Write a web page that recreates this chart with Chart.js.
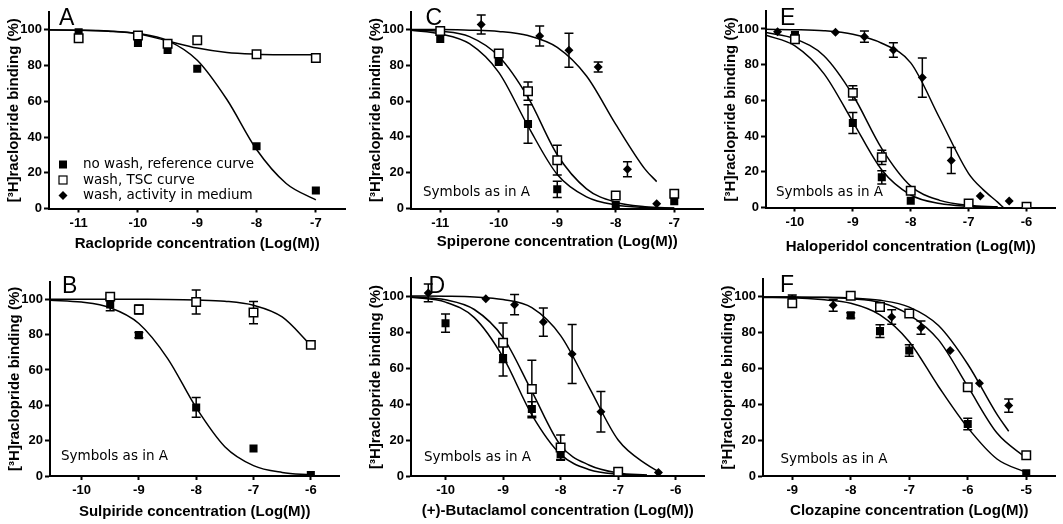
<!DOCTYPE html>
<html>
<head>
<meta charset="utf-8">
<script src="https://cdn.jsdelivr.net/npm/chart.js@4.4.1/dist/chart.umd.min.js"></script>
<style>
html, body { margin: 0; padding: 0; background: #fff; overflow: hidden; }
#fig { position: relative; width: 1063px; height: 524px; }
#fig canvas { position: absolute; }
</style>
</head>
<body>
<div id="fig"></div>
<script>
// ---- data ----
const yTickValues = [0, 20, 40, 60, 80, 100];
const legendLabels = ['no wash, reference curve', 'wash, TSC curve', 'wash, activity in medium'];
const yTitle = '[³H]raclopride binding (%)';

// A - raclopride
const aConc = [-11, -10, -9.5, -9, -8, -7];
const aRef = [98.7, 92.6, 88.8, 78.2, 34.8, 10.1];
const aTsc = [95.3, 96.8, 92.2, 94.2, 86.4, 84.2];
const aFitX = [-11.5, -11, -10.5, -10, -9.5, -9, -8.5, -8, -7.5, -7];
const aRefFit = [99.9, 99.8, 99.4, 98, 94, 83, 61, 33, 14, 4.8];
const aTscFit = [100, 99.8, 99.2, 97.8, 93.8, 89.8, 87.3, 86.4, 86.1, 86];

// B - sulpiride
const bConc = [-9.5, -9, -8, -7, -6];
const bRef = [97, 79.7, 38.8, 15.6, 0.6];
const bRefErr = [3.5, 1.5, 5.6, 0, 0];
const bTsc = [101.5, 94.2, 98.5, 92.5, 74.2];
const bTscErr = [1, 2.5, 6.8, 6.3, 0];
const bFitX = [-10.55, -10, -9.5, -9, -8.5, -8, -7.5, -7, -6.5, -6];
const bRefFit = [99.5, 98.4, 95.2, 86.3, 66.6, 38.7, 16.6, 5.9, 2, 0.6];
const bTscFit = [100, 100, 100, 99.96, 99.9, 99.6, 98.9, 96.6, 90, 74];

// C - spiperone
const cConc = [-11, -10, -9.5, -9, -8, -7];
const cRef = [94.6, 81.8, 47.2, 10.7, 1.9, 4.1];
const cRefErr = [0, 0, 10.8, 4.5, 0, 0];
const cTsc = [99.1, 86.5, 65.5, 27, 7.3, 8.2];
const cTscErr = [0, 0, 5.1, 8.3, 0, 0];
const cMedConc = [-10.3, -9.3, -8.8, -8.3, -7.8, -7.3];
const cMed = [102.8, 96.3, 88.4, 79, 21.9, 2.6];
const cMedErr = [5.3, 5.6, 9.5, 2.8, 4.2, 0];
const cFitX = [-11.5, -11, -10.5, -10, -9.5, -9, -8.5, -8, -7.5, -7];
const cRefFit = [99.5, 97.5, 92, 76, 46, 19, 6.5, 2, 0.6, 0.2];
const cTscFit = [99.7, 99, 96, 85, 62, 30, 11, 3.5, 1, 0.3];
const cMedFitX = [-11.5, -11, -10.5, -10, -9.5, -9, -8.5, -8, -7.5, -7.3];
const cMedFit = [100, 99.9, 99.6, 98.9, 96.6, 90, 74, 47, 22, 15];

// D - (+)-butaclamol
const dConc = [-10, -9, -8.5, -8, -7];
const dRef = [84.9, 65.6, 37.2, 12.1, 1.9];
const dRefErr = [5.1, 10, 4, 3, 0];
const dTscConc = [-9, -8.5, -8, -7];
const dTsc = [74, 48.3, 15.8, 2.4];
const dTscErr = [11, 16, 7, 1.5];
const dMedConc = [-10.3, -9.3, -8.8, -8.3, -7.8, -7.3, -6.3];
const dMed = [101.7, 98.5, 95.2, 85.5, 67.8, 35.7, 1.9];
const dMedErr = [4.9, 0, 5.6, 7.8, 16.4, 11.2, 0];
const dFitX = [-10.6, -10, -9.5, -9, -8.5, -8, -7.5, -7, -6.5];
const dRefFit = [99.3, 96.6, 88, 66, 34, 12, 3.5, 1, 0.3];
const dTscFit = [99.6, 97.9, 92.5, 77, 47, 17, 6, 1.7, 0.5];
const dMedFitX = [-10.6, -10, -9.5, -9, -8.5, -8, -7.5, -7, -6.5, -6.3];
const dMedFit = [100, 99.9, 99.5, 98, 93.5, 78, 49, 20, 6.3, 2.5];

// E - haloperidol
const eConc = [-10, -9, -8.5, -8, -7, -6];
const eRef = [96.6, 47.3, 16.9, 3.8, 0.4, 0.3];
const eRefErr = [0, 5.9, 3.7, 0, 0, 0];
const eTsc = [94.2, 64.2, 28.1, 9.4, 2.3, 0.4];
const eTscErr = [0, 4, 4, 0, 0, 0];
const eMedConc = [-10.3, -9.3, -8.8, -8.3, -7.8, -7.3, -6.8, -6.3];
const eMed = [98.5, 98.1, 95.7, 88.2, 72.8, 26.3, 6.4, 3.6];
const eMedErr = [0, 0, 3.1, 4.1, 11, 7.3, 0, 0];
const eFitX = [-10.5, -10, -9.5, -9, -8.5, -8, -7.5, -7, -6.5];
const eRefFit = [96.5, 90.5, 75, 48, 21, 7, 2.2, 0.7, 0.2];
const eTscFit = [98, 94.5, 85, 63, 33, 12, 4, 1.2, 0.4];
const eMedFitX = [-10.5, -10, -9.5, -9, -8.5, -8, -7.5, -7, -6.75, -6.5, -6.4];
const eMedFit = [99.8, 99.6, 99, 97, 92, 81, 50, 19, 10, 3, 0];

// F - clozapine
const fConc = [-9, -8, -7.5, -7, -6, -5];
const fRef = [98.5, 89.7, 80.9, 70.1, 29, 1.5];
const fRefErr = [2.5, 1.5, 3.5, 3.2, 3.2, 0];
const fTsc = [96.5, 100.6, 94.4, 90.7, 49.5, 11.6];
const fTscErr = [0, 0, 0, 0, 0, 0];
const fMedConc = [-9, -8.3, -7.3, -6.8, -6.3, -5.8, -5.3];
const fMed = [98.7, 95.3, 88.8, 82.8, 70.1, 51.8, 39.3];
const fMedErr = [0, 3.3, 4, 3.7, 0, 0, 3.7];
const fFitX = [-9.5, -9, -8.5, -8, -7.5, -7, -6.5, -6, -5.5, -5];
const fRefFit = [99.7, 99.5, 98.5, 96.5, 90, 75, 50, 27, 9.5, 2];
const fTscFit = [100, 99.9, 99.7, 99, 97, 90, 76, 50, 24, 10];
const fMedFitX = [-9.5, -9, -8.5, -8, -7.5, -7, -6.5, -6, -5.5, -5.3];
const fMedFit = [100, 99.9, 99.8, 99.4, 98.1, 94.3, 84, 62.4, 34.4, 25];

// ---- styling ----
const tickFont = { family: '"Liberation Sans Narrow", "Liberation Sans", Arial, sans-serif', size: 13, weight: 'bold' };
const titleFont = { family: '"Liberation Sans", Arial, sans-serif', size: 15, weight: 'bold' };
const noteFont = '13.5px "DejaVu Sans", Verdana, sans-serif';
const letterFont = '23px "Liberation Sans", Arial, sans-serif';

const markers = {
    filled: { pointStyle: 'rect', pointRadius: 5.7, backgroundColor: '#000', borderColor: '#000', borderWidth: 0 },
    open: { pointStyle: 'rect', pointRadius: 6, backgroundColor: '#fff', borderColor: '#000', borderWidth: 1.5 },
    diamond: { pointStyle: 'rectRot', pointRadius: 4.5, backgroundColor: '#000', borderColor: '#000', borderWidth: 0 }
};

function pts(xs, ys) {
    return xs.map((x, i) => ({ x: x, y: ys[i] }));
}

function markerSet(xs, ys, errs, style) {
    return Object.assign({ data: pts(xs, ys), errors: errs || null, showLine: false, pointHoverRadius: markers[style].pointRadius }, markers[style]);
}

function fitSet(xs, ys) {
    return {
        data: pts(xs, ys),
        showLine: true,
        pointRadius: 0,
        pointHoverRadius: 0,
        borderColor: '#000',
        borderWidth: 1.5,
        fill: false,
        cubicInterpolationMode: 'monotone'
    };
}

// vertical error bars under the markers
const errorBars = {
    id: 'errorBars',
    beforeDatasetsDraw(chart) {
        const ctx = chart.ctx;
        const ys = chart.scales.y;
        ctx.save();
        ctx.strokeStyle = '#000';
        ctx.lineWidth = 1.5;
        chart.data.datasets.forEach((ds, i) => {
            if (!ds.errors) return;
            const meta = chart.getDatasetMeta(i);
            meta.data.forEach((pt, j) => {
                const e = ds.errors[j];
                if (!e) return;
                const v = ds.data[j].y;
                const top = ys.getPixelForValue(v + e);
                const bot = ys.getPixelForValue(v - e);
                ctx.beginPath();
                ctx.moveTo(pt.x, top); ctx.lineTo(pt.x, bot);
                ctx.moveTo(pt.x - 4.5, top); ctx.lineTo(pt.x + 4.5, top);
                ctx.moveTo(pt.x - 4.5, bot); ctx.lineTo(pt.x + 4.5, bot);
                ctx.stroke();
            });
        });
        ctx.restore();
    }
};

// panel letter, "Symbols as in A" and the legend of panel A
const panelText = {
    id: 'panelText',
    afterDraw(chart, args, opts) {
        const ctx = chart.ctx;
        ctx.save();
        ctx.fillStyle = '#000';
        ctx.strokeStyle = '#000';
        if (opts.letter) {
            ctx.font = letterFont;
            ctx.textBaseline = 'alphabetic';
            ctx.fillText(opts.letter.text, opts.letter.x, opts.letter.y);
        }
        ctx.font = noteFont;
        ctx.textBaseline = 'middle';
        if (opts.note) {
            ctx.fillText(opts.note.text, opts.note.x, opts.note.y);
        }
        if (opts.legend) {
            const L = opts.legend;
            L.labels.forEach((label, i) => {
                const cy = L.y + i * L.step;
                const cx = L.x;
                ctx.beginPath();
                if (i === 0) {
                    ctx.fillRect(cx - 4, cy - 4, 8, 8);
                } else if (i === 1) {
                    ctx.lineWidth = 1.2;
                    ctx.fillStyle = '#fff';
                    ctx.fillRect(cx - 4, cy - 4, 8, 8);
                    ctx.strokeRect(cx - 4, cy - 4, 8, 8);
                    ctx.fillStyle = '#000';
                } else {
                    ctx.moveTo(cx, cy - 4.5); ctx.lineTo(cx + 4.5, cy);
                    ctx.lineTo(cx, cy + 4.5); ctx.lineTo(cx - 4.5, cy);
                    ctx.closePath();
                    ctx.fill();
                }
                ctx.fillText(label, L.textX, cy);
            });
        }
        ctx.restore();
    }
};

Chart.register(errorBars, panelText);

// ---- panel layout (pixel positions in the 1063x524 figure) ----
const panels = [
    {
        box: { x: -1, y: 0, w: 354, h: 262 }, padTop: 12, xHeight: 53.5, titlePad: 9,
        xMin: -11.5, xMax: -6.5, xTicks: [-11, -10, -9, -8, -7],
        xTitle: 'Raclopride concentration (Log(M))',
        letter: { text: 'A', x: 59, y: 24.5 },
        legend: { x: 63, y: 164.5, step: 15.5, textX: 83, labels: legendLabels },
        datasets: [
            markerSet(aConc, aTsc, null, 'open'),
            markerSet(aConc, aRef, null, 'filled'),
            fitSet(aFitX, aRefFit),
            fitSet(aFitX, aTscFit)
        ]
    },
    {
        box: { x: 0, y: 262, w: 347, h: 262 }, padTop: 19.6, xHeight: 48, titlePad: 3,
        xMin: -10.55, xMax: -5.5, xTicks: [-10, -9, -8, -7, -6],
        xTitle: 'Sulpiride concentration (Log(M))',
        letter: { text: 'B', x: 62, y: 292.5 },
        note: { text: 'Symbols as in A', x: 61, y: 456.5 },
        datasets: [
            markerSet(bConc, bTsc, bTscErr, 'open'),
            markerSet(bConc, bRef, bRefErr, 'filled'),
            fitSet(bFitX, bRefFit),
            fitSet(bFitX, bTscFit)
        ]
    },
    {
        box: { x: 361, y: 0, w: 350, h: 262 }, padTop: 11.5, xHeight: 53.5, titlePad: 11.3,
        xMin: -11.5, xMax: -6.5, xTicks: [-11, -10, -9, -8, -7],
        xTitle: 'Spiperone concentration (Log(M))',
        letter: { text: 'C', x: 425.5, y: 24.5 },
        note: { text: 'Symbols as in A', x: 423, y: 192.7 },
        datasets: [
            markerSet(cConc, cTsc, cTscErr, 'open'),
            markerSet(cConc, cRef, cRefErr, 'filled'),
            markerSet(cMedConc, cMed, cMedErr, 'diamond'),
            fitSet(cFitX, cRefFit),
            fitSet(cFitX, cTscFit),
            fitSet(cMedFitX, cMedFit)
        ]
    },
    {
        box: { x: 361, y: 262, w: 351, h: 262 }, padTop: 16, xHeight: 48, titlePad: 3.7,
        xMin: -10.6, xMax: -5.5, xTicks: [-10, -9, -8, -7, -6],
        xTitle: '(+)-Butaclamol concentration (Log(M))',
        letter: { text: 'D', x: 428.5, y: 292.5 },
        note: { text: 'Symbols as in A', x: 424, y: 457 },
        datasets: [
            markerSet(dTscConc, dTsc, dTscErr, 'open'),
            markerSet(dConc, dRef, dRefErr, 'filled'),
            markerSet(dMedConc, dMed, dMedErr, 'diamond'),
            fitSet(dFitX, dRefFit),
            fitSet(dFitX, dTscFit),
            fitSet(dMedFitX, dMedFit)
        ]
    },
    {
        box: { x: 716, y: 0, w: 347, h: 262 }, padTop: 11.1, xHeight: 54.5, titlePad: 6.3,
        xMin: -10.5, xMax: -5.5, xTicks: [-10, -9, -8, -7, -6],
        xTitle: 'Haloperidol concentration (Log(M))',
        letter: { text: 'E', x: 780, y: 24.5 },
        note: { text: 'Symbols as in A', x: 776, y: 192.7 },
        datasets: [
            markerSet(eConc, eTsc, eTscErr, 'open'),
            markerSet(eConc, eRef, eRefErr, 'filled'),
            markerSet(eMedConc, eMed, eMedErr, 'diamond'),
            fitSet(eFitX, eRefFit),
            fitSet(eFitX, eTscFit),
            fitSet(eMedFitX, eMedFit)
        ]
    },
    {
        box: { x: 713, y: 262, w: 350, h: 262 }, padTop: 17, xHeight: 48, titlePad: 4,
        xMin: -9.5, xMax: -4.5, xTicks: [-9, -8, -7, -6, -5],
        xTitle: 'Clozapine concentration (Log(M))',
        letter: { text: 'F', x: 780, y: 291.5 },
        note: { text: 'Symbols as in A', x: 780.5, y: 459.3 },
        datasets: [
            markerSet(fConc, fTsc, fTscErr, 'open'),
            markerSet(fConc, fRef, fRefErr, 'filled'),
            markerSet(fMedConc, fMed, fMedErr, 'diamond'),
            fitSet(fFitX, fRefFit),
            fitSet(fFitX, fTscFit),
            fitSet(fMedFitX, fMedFit)
        ]
    }
];

function shift(p, box) {
    if (!p) return undefined;
    return Object.assign({}, p, { x: p.x - box.x, y: p.y - box.y });
}

function makePanel(p) {
    const fig = document.getElementById('fig');
    const canvas = document.createElement('canvas');
    canvas.width = p.box.w;
    canvas.height = p.box.h;
    canvas.style.left = p.box.x + 'px';
    canvas.style.top = p.box.y + 'px';
    canvas.style.width = p.box.w + 'px';
    canvas.style.height = p.box.h + 'px';
    fig.appendChild(canvas);

    let legend;
    if (p.legend) {
        legend = Object.assign({}, p.legend, { x: p.legend.x - p.box.x, y: p.legend.y - p.box.y, textX: p.legend.textX - p.box.x });
    }

    new Chart(canvas, {
        type: 'scatter',
        data: { datasets: p.datasets },
        options: {
            responsive: false,
            animation: false,
            events: [],
            layout: { padding: { top: p.padTop, right: 4, left: 0, bottom: 0 } },
            plugins: {
                legend: { display: false },
                tooltip: { enabled: false },
                panelText: {
                    letter: shift(p.letter, p.box),
                    note: shift(p.note, p.box),
                    legend: legend
                }
            },
            scales: {
                x: {
                    type: 'linear',
                    min: p.xMin,
                    max: p.xMax,
                    afterBuildTicks: s => { s.ticks = p.xTicks.map(v => ({ value: v })); },
                    afterFit: s => { s.height = p.xHeight; },
                    ticks: { font: tickFont, color: '#000', padding: 3, maxRotation: 0 },
                    grid: { drawOnChartArea: false, drawTicks: true, tickLength: 4, tickWidth: 2, tickColor: '#000' },
                    border: { display: true, color: '#000', width: 2 },
                    title: { display: true, text: p.xTitle, font: titleFont, color: '#000', padding: { top: 0, bottom: p.titlePad } }
                },
                y: {
                    type: 'linear',
                    min: 0,
                    max: 110,
                    afterBuildTicks: s => { s.ticks = yTickValues.map(v => ({ value: v })); },
                    afterFit: s => { s.width = 50; },
                    ticks: { font: tickFont, color: '#000', padding: 2 },
                    grid: { drawOnChartArea: false, drawTicks: true, tickLength: 5, tickWidth: 2, tickColor: '#000' },
                    border: { display: true, color: '#000', width: 2 },
                    title: { display: true, text: yTitle, font: titleFont, color: '#000', padding: { top: 6, bottom: 0 } }
                }
            }
        }
    });
}

panels.forEach(makePanel);
</script>
</body>
</html>
